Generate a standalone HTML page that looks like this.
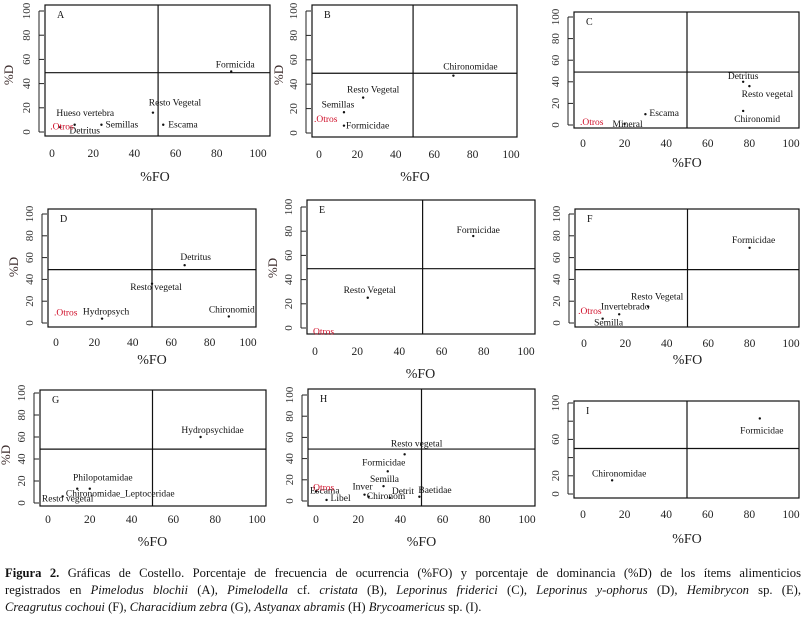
<!DOCTYPE html>
<html><head><meta charset="utf-8">
<style>
html,body{margin:0;padding:0;background:#fff;}
body{width:805px;height:620px;overflow:hidden;position:relative;font-family:"Liberation Serif",serif;}
svg{position:absolute;left:0;top:0;}
#caption{position:absolute;left:5px;top:565px;width:796px;font-size:12.6px;line-height:17px;color:#111;}
.j{text-align:justify;text-align-last:justify;white-space:nowrap;}
</style></head>
<body>
<svg id="fig" width="805" height="620" viewBox="0 0 805 620"></svg>
<div id="caption">
<div class="j"><b>Figura 2.</b> Gráficas de Costello. Porcentaje de frecuencia de ocurrencia (%FO) y porcentaje de dominancia (%D) de los ítems alimenticios</div>
<div class="j">registrados en <i>Pimelodus blochii</i> (A), <i>Pimelodella</i> cf. <i>cristata</i> (B), <i>Leporinus friderici</i> (C), <i>Leporinus y-ophorus</i> (D), <i>Hemibrycon</i> sp. (E),</div>
<div><i>Creagrutus cochoui</i> (F), <i>Characidium zebra</i> (G), <i>Astyanax abramis</i> (H) <i>Brycoamericus</i> sp. (I).</div>
</div>
<script>
// ---- data ----
const xTicks=[0,20,40,60,80,100];
const yTicks=[0,20,40,60,80,100];
const panelIds=["A","B","C","D","E","F","G","H","I"];
const thresholdFO=[51.5,49,50,50,51,50,50,50,50];
const thresholdD=[49,49,49,49,49,49,49,49,50];

const aLabels=["Formicida","Resto Vegetal","Escama","Semillas","Detritus","Hueso vertebra",".Otros"];
const aFO=[87,49,54,24,11,4,4];
const aD=[50,16,6,6,6,4,3];
const bLabels=["Chironomidae","Resto Vegetal","Semillas","Formicidae",".Otros"];
const bFO=[70,23,13,13,0];
const bD=[47,29,17,6,9];
const cLabels=["Detritus","Resto vegetal","Chironomid","Escama","Mineral",".Otros"];
const cFO=[77,80,77,30,20,0];
const cD=[40,36,13,10,1,3];
const dLabels=["Detritus","Resto vegetal","Chironomid","Hydropsych",".Otros"];
const dFO=[67,50,90,24,0];
const dD=[53,36,6,4,8];
const eLabels=["Formicidae","Resto Vegetal","Otros"];
const eFO=[75,25,0];
const eD=[76,25,-2];
const fLabels=["Formicidae","Resto Vegetal","Invertebrado","Semilla",".Otros"];
const fFO=[80,31,17,9,1];
const fD=[69,15,8,4,9];
const gLabels=["Hydropsychidae","Philopotamidae","Chironomidae_Leptoceridae","Resto vegetal"];
const gFO=[73,20,14,7];
const gD=[60,13,13,6];
const hLabels=["Resto vegetal","Formicidae","Semilla","Inver","Chironom","Detrit","Baetidae","Libel","Escama","Otros"];
const hFO=[42,34,32,23,25,35,49,5,0,1];
const hD=[44,28,14,6,4,3,4,1,9,11];
const iLabels=["Formicidae","Chironomidae"];
const iFO=[85,14];
const iD=[83,15];

// ---- layout (pixel geometry, not data) ----
const frames=[
 {L:45,R:270,T:5,B:136,x0:52,x1:258,y0:132,y1:11,tl:157,ft:181,dx:13,dy:75},
 {L:312,R:517,T:5,B:137,x0:319,x1:511,y0:133,y1:11,tl:158,ft:181,dx:283,dy:75},
 {L:574,R:799,T:12,B:128,x0:583,x1:791,y0:125,y1:17,tl:147,ft:167,dx:null,dy:null},
 {L:48,R:256,T:209,B:327,x0:56,x1:248,y0:323,y1:214,tl:346,ft:364,dx:18,dy:267},
 {L:307,R:535,T:200,B:334,x0:315,x1:526,y0:328,y1:207,tl:355,ft:378,dx:277,dy:268},
 {L:575,R:799,T:209,B:327,x0:584,x1:791,y0:323,y1:214,tl:347,ft:364,dx:null,dy:null},
 {L:40,R:266,T:390,B:506,x0:48,x1:257,y0:503,y1:393,tl:523,ft:546,dx:10,dy:455},
 {L:308,R:535,T:389,B:506,x0:316,x1:527,y0:501,y1:395,tl:523,ft:546,dx:null,dy:null},
 {L:574,R:799,T:401,B:498,x0:583,x1:791,y0:494,y1:403,tl:518,ft:543,dx:null,dy:null}
];
const labelOffsets=[
 [[4,-4,"middle"],[22,-7,"middle"],[5,3,"start"],[4,3,"start"],[10,9,"middle"],[25,-11,"middle"],[-10,1,"start"]],
 [[17,-6,"middle"],[10,-5,"middle"],[-6,-5,"middle"],[2,3,"start"],[-5,0,"start"]],
 [[0,-3,"middle"],[18,11,"middle"],[14,11,"middle"],[4,2,"start"],[3,3,"middle"],[-3,3,"start"]],
 [[11,-5,"middle"],[4,6,"middle"],[3,-4,"middle"],[4,-4,"middle"],[-2,1,"start"]],
 [[5,-3,"middle"],[2,-5,"middle"],[-2,4,"start"]],
 [[4,-5,"middle"],[9,-7,"middle"],[6,-5,"middle"],[6,7,"middle"],[-8,1,"start"]],
 [[12,-4,"middle"],[13,-8,"middle"],[43,8,"middle"],[5,5,"middle"]],
 [[12,-8,"middle"],[-4,-6,"middle"],[1,-4,"middle"],[-2,-5,"middle"],[-2,2,"start"],[2,-4,"start"],[-1,-4,"start"],[4,1,"start"],[-6,2,"start"],[-5,1,"start"]],
 [[2,15,"middle"],[7,-4,"middle"]]
];
const allLabels=[aLabels,bLabels,cLabels,dLabels,eLabels,fLabels,gLabels,hLabels,iLabels];
const allFO=[aFO,bFO,cFO,dFO,eFO,fFO,gFO,hFO,iFO];
const allD=[aD,bD,cD,dD,eD,fD,gD,hD,iD];

const NS="http://www.w3.org/2000/svg";
const svg=document.getElementById("fig");
function mk(tag,attrs,parent){const e=document.createElementNS(NS,tag);for(const k in attrs)e.setAttribute(k,attrs[k]);(parent||svg).appendChild(e);return e;}

panelIds.forEach((pid,p)=>{
  const f=frames[p];
  const sx=v=>f.x0+(v/100)*(f.x1-f.x0);
  const sy=v=>f.y0-(v/100)*(f.y0-f.y1);
  const g=mk("g",{});
  
  
  const box=mk("rect",{x:f.L,y:f.T,width:f.R-f.L,height:f.B-f.T,fill:"none",stroke:"#111","stroke-width":1.2},g);
  
  
  const vl=mk("line",{x1:sx(thresholdFO[p]),x2:sx(thresholdFO[p]),y1:f.T,y2:f.B,stroke:"#111","stroke-width":1.2},g);
  
  
  const hl=mk("line",{x1:f.L,x2:f.R,y1:sy(thresholdD[p]),y2:sy(thresholdD[p]),stroke:"#111","stroke-width":1.2},g);
  
  
  const pl=mk("text",{x:f.L+12,y:f.T+13,"font-size":10,fill:"#111"},g);
  pl.textContent=pid;
  
  
  const ax=mk("line",{x1:f.L-6,x2:f.L-6,y1:sy(0),y2:sy(100),stroke:"#222","stroke-width":1},g);
  
  
  yTicks.forEach(t=>{
    const tk=mk("line",{x1:f.L-6,x2:f.L-1,y1:sy(t),y2:sy(t),stroke:"#222","stroke-width":1},g);
    
    
    if(pid==="I" && (t===40||t===80)) return;
    const lx=f.L-15, ly=sy(t);
    const tl=mk("text",{x:lx,y:ly,"font-size":11,fill:"#333","text-anchor":"middle",transform:`rotate(-90 ${lx} ${ly})`},g);
    tl.textContent=t;
    
    
  });
  xTicks.forEach(t=>{
    const tl=mk("text",{x:sx(t),y:f.tl,"font-size":11.5,fill:"#222","text-anchor":"middle"},g);
    tl.textContent=t;
    
    
  });
  const xt=mk("text",{x:(f.x0+f.x1)/2,y:f.ft,"font-size":14,fill:"#222","text-anchor":"middle"},g);
  xt.textContent="%FO";
  
  
  if(f.dx!==null){
    const yt=mk("text",{x:f.dx,y:f.dy,"font-size":13,fill:"#3a2a2a","text-anchor":"middle",transform:`rotate(-90 ${f.dx} ${f.dy})`},g);
    yt.textContent="%D";
    
    
  }
  allLabels[p].forEach((lab,i)=>{
    const px=sx(allFO[p][i]), py=sy(allD[p][i]);
    const isOtros=lab.indexOf("Otros")>=0;
    if(!isOtros){
      const c=mk("circle",{cx:px,cy:py,r:1.2,fill:"#111"},g);
      
      
    }
    const o=labelOffsets[p][i];
    const t=mk("text",{x:px+o[0],y:py+o[1],"font-size":9.5,fill:isOtros?"#d0102a":"#111","text-anchor":o[2]},g);
    t.textContent=lab;
    
    
  });
});
</script>
</body></html>
